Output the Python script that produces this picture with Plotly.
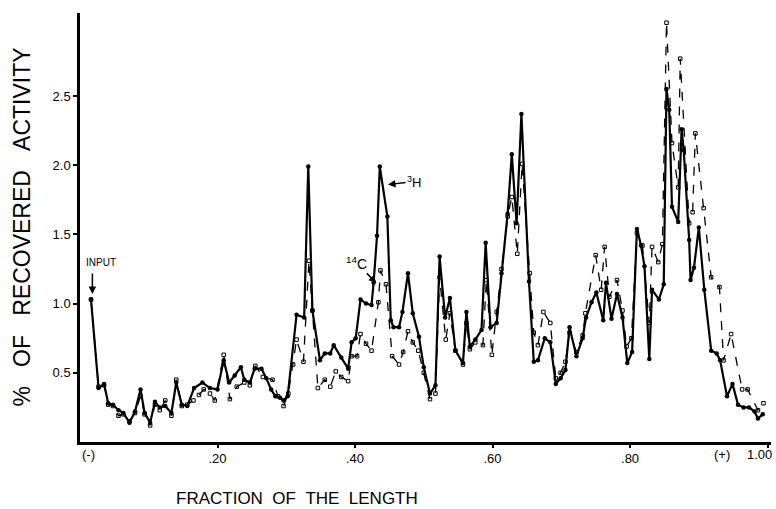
import plotly.graph_objects as go

# 3H series (solid line, filled dots)
h3_x = [0.016, 0.027, 0.035, 0.041, 0.048, 0.056, 0.063, 0.072, 0.080, 0.088,
        0.094, 0.102, 0.109, 0.116, 0.124, 0.133, 0.140, 0.148, 0.156, 0.166,
        0.178, 0.189, 0.200, 0.209, 0.217, 0.225, 0.234, 0.239, 0.247, 0.254,
        0.264, 0.271, 0.278, 0.284, 0.291, 0.296, 0.302, 0.315, 0.326, 0.332,
        0.338, 0.349, 0.356, 0.364, 0.369, 0.380, 0.390, 0.395, 0.401, 0.408,
        0.416, 0.424, 0.427, 0.432, 0.436, 0.447, 0.452, 0.456, 0.464, 0.469,
        0.477, 0.484, 0.493, 0.500, 0.509, 0.517, 0.523, 0.531, 0.538, 0.546,
        0.557, 0.562, 0.567, 0.575, 0.584, 0.590, 0.597, 0.606, 0.613, 0.622,
        0.628, 0.635, 0.642, 0.653, 0.660, 0.666, 0.676, 0.684, 0.692, 0.699,
        0.706, 0.712, 0.722, 0.731, 0.736, 0.744, 0.751, 0.761, 0.765, 0.773,
        0.781, 0.789, 0.796, 0.803, 0.810, 0.816, 0.821, 0.828, 0.832, 0.842,
        0.849, 0.853, 0.857, 0.861, 0.870, 0.875, 0.878, 0.886, 0.888, 0.893,
        0.900, 0.908, 0.918, 0.926, 0.931, 0.941, 0.949, 0.957, 0.965, 0.973,
        0.981, 0.986, 0.993]
h3_y = [1.03, 0.39, 0.42, 0.28, 0.27, 0.23, 0.21, 0.14, 0.22, 0.38,
        0.21, 0.14, 0.29, 0.25, 0.26, 0.21, 0.43, 0.27, 0.26, 0.39,
        0.43, 0.39, 0.38, 0.59, 0.43, 0.48, 0.54, 0.45, 0.43, 0.53,
        0.53, 0.46, 0.38, 0.33, 0.32, 0.30, 0.33, 0.92, 0.90, 1.99,
        0.95, 0.59, 0.64, 0.64, 0.70, 0.61, 0.53, 0.72, 0.75, 1.03,
        1.00, 0.99, 1.15, 1.49, 1.99, 1.63, 0.88, 0.83, 0.83, 0.94,
        1.22, 0.93, 0.76, 0.54, 0.35, 0.41, 1.34, 0.90, 1.04, 0.66,
        0.57, 0.94, 0.69, 0.74, 0.81, 1.44, 0.83, 0.86, 1.22, 1.65,
        2.08, 1.58, 2.37, 1.16, 0.58, 0.59, 0.75, 0.72, 0.42, 0.46,
        0.52, 0.83, 0.62, 0.75, 0.90, 1.01, 1.08, 0.88, 1.15, 0.89,
        1.07, 0.90, 0.57, 0.65, 1.54, 1.42, 1.27, 0.60, 1.10, 1.03,
        1.14, 2.55, 2.40, 1.70, 1.59, 2.26, 2.11, 1.46, 1.17, 1.26,
        1.55, 1.10, 0.66, 0.64, 0.59, 0.33, 0.42, 0.27, 0.25, 0.25,
        0.22, 0.17, 0.20]

# 14C series (dashed line, open squares)
c14_x = [0.016, 0.027, 0.035, 0.041, 0.048, 0.056, 0.063, 0.072, 0.080, 0.088,
         0.094, 0.102, 0.109, 0.116, 0.124, 0.133, 0.140, 0.148, 0.156, 0.165,
         0.173, 0.180, 0.189, 0.196, 0.209, 0.218, 0.228, 0.239, 0.247, 0.255,
         0.266, 0.280, 0.288, 0.296, 0.303, 0.310, 0.315, 0.325, 0.333, 0.338,
         0.346, 0.356, 0.364, 0.372, 0.380, 0.390, 0.395, 0.403, 0.408, 0.416,
         0.424, 0.434, 0.437, 0.445, 0.454, 0.464, 0.470, 0.477, 0.484, 0.492,
         0.500, 0.509, 0.517, 0.523, 0.532, 0.538, 0.546, 0.557, 0.562, 0.567,
         0.575, 0.586, 0.591, 0.599, 0.606, 0.613, 0.622, 0.628, 0.636, 0.643,
         0.654, 0.660, 0.666, 0.674, 0.684, 0.692, 0.699, 0.706, 0.712, 0.722,
         0.731, 0.735, 0.750, 0.758, 0.763, 0.770, 0.781, 0.789, 0.795, 0.802,
         0.810, 0.818, 0.828, 0.832, 0.841, 0.847, 0.853, 0.861, 0.870, 0.873,
         0.886, 0.891, 0.895, 0.907, 0.918, 0.930, 0.936, 0.947, 0.963, 0.971,
         0.986, 0.994]
c14_y = [1.03, 0.40, 0.41, 0.27, 0.26, 0.19, 0.20, 0.15, 0.21, 0.33,
         0.20, 0.12, 0.27, 0.23, 0.30, 0.19, 0.45, 0.26, 0.27, 0.30,
         0.34, 0.38, 0.35, 0.30, 0.63, 0.31, 0.40, 0.43, 0.41, 0.55,
         0.47, 0.45, 0.33, 0.26, 0.35, 0.56, 0.74, 0.58, 1.31, 0.95,
         0.39, 0.45, 0.40, 0.51, 0.47, 0.44, 0.62, 0.62, 0.78, 0.71,
         0.66, 1.01, 1.24, 1.14, 0.62, 0.56, 0.65, 0.80, 0.72, 0.66,
         0.50, 0.31, 0.35, 1.19, 0.74, 0.93, 0.66, 0.56, 0.86, 0.67,
         0.72, 0.70, 1.17, 0.63, 0.94, 1.25, 1.63, 1.77, 1.36, 2.01,
         1.22, 0.79, 0.70, 0.94, 0.86, 0.46, 0.50, 0.58, 0.79, 0.65,
         0.77, 0.93, 1.35, 1.10, 1.41, 1.05, 1.17, 0.95, 0.69, 0.75,
         1.51, 1.42, 0.86, 1.41, 1.30, 1.43, 3.03, 2.16, 1.84, 2.77,
         1.58, 1.66, 2.23, 1.69, 1.19, 1.12, 0.59, 0.78, 0.38, 0.38,
         0.23, 0.28]

x_tickvals = [0.2, 0.4, 0.6, 0.8, 1.0]
x_ticktext = [".20", ".40", ".60", ".80", ""]
y_tickvals = [0.5, 1.0, 1.5, 2.0, 2.5]
y_ticktext = ["0.5", "1.0", "1.5", "2.0", "2.5"]

fig = go.Figure()
fig.add_trace(go.Scatter(
    x=c14_x, y=c14_y, mode="lines+markers", name="14C",
    line=dict(color="black", width=1.3, dash="dash"),
    marker=dict(symbol="square-open", size=3.5, color="black", line=dict(width=1)),
))
fig.add_trace(go.Scatter(
    x=h3_x, y=h3_y, mode="lines+markers", name="3H",
    line=dict(color="black", width=2.2),
    marker=dict(symbol="circle", size=4.5, color="black"),
))

nb = "\u00a0"
tick_font = dict(family="Liberation Sans", size=13, color="black")
fig.update_layout(
    width=776, height=509,
    margin=dict(l=80, r=5, t=13, b=67, autoexpand=False),
    paper_bgcolor="white", plot_bgcolor="white",
    showlegend=False,
    xaxis=dict(range=[0, 1.005], tickvals=x_tickvals, ticktext=x_ticktext,
               automargin=False,
               showline=True, linecolor="black", linewidth=2.5,
               ticks="outside", ticklen=3, tickwidth=2, tickcolor="black",
               ticklabelstandoff=0,
               showgrid=False, zeroline=False, tickfont=tick_font),
    yaxis=dict(range=[0, 3.1], tickvals=y_tickvals, ticktext=y_ticktext,
               automargin=False,
               showline=True, linecolor="black", linewidth=2.5,
               ticks="outside", ticklen=4, tickwidth=2, tickcolor="black",
               ticklabelstandoff=0,
               showgrid=False, zeroline=False, tickfont=tick_font),
    font=dict(family="Liberation Sans", color="black"),
)

ann = []
# axis titles
ann.append(dict(text=("%" + nb*3 + "OF" + nb*3 + "RECOVERED" + nb*3 + "ACTIVITY"),
                xref="paper", yref="paper", x=-59/691, y=0.5, xanchor="center",
                yanchor="middle", textangle=-90, showarrow=False,
                font=dict(family="Liberation Sans", size=23, color="black")))
ann.append(dict(text=("FRACTION" + nb*2 + "OF" + nb*2 + "THE" + nb*2 + "LENGTH"),
                xref="paper", yref="paper", x=217/691, y=-56/429, xanchor="center",
                yanchor="middle", showarrow=False,
                font=dict(family="Liberation Sans", size=17, color="black")))
# end labels (-), (+), 1.00
ann.append(dict(text="(-)", xref="x", yref="paper", x=0.012, y=0, yshift=-12,
                xanchor="center", yanchor="middle", showarrow=False, font=tick_font))
ann.append(dict(text="(+)", xref="x", yref="paper", x=0.933, y=0, yshift=-12,
                xanchor="center", yanchor="middle", showarrow=False, font=tick_font))
ann.append(dict(text="1.00", xref="paper", yref="paper", x=1.0, y=0, yshift=-12,
                xshift=3, xanchor="right", yanchor="middle", showarrow=False,
                font=tick_font))
# INPUT text and arrow
ann.append(dict(text="INPUT", xref="x", yref="y", x=0.030, y=1.30,
                xanchor="center", yanchor="middle", showarrow=False,
                font=dict(family="Liberation Sans", size=10, color="black")))
ann.append(dict(text="", xref="x", yref="y", x=0.018, y=1.07, ax=0, ay=-22,
                showarrow=True, arrowhead=2, arrowsize=1, arrowwidth=1.5,
                arrowcolor="black"))
# 3H label with arrow
ann.append(dict(text="<sup>3</sup>H", xref="x", yref="y", x=0.448, y=1.86, ax=26, ay=-3,
                showarrow=True, arrowhead=2, arrowsize=1, arrowwidth=1.5,
                arrowcolor="black",
                font=dict(family="Liberation Sans", size=13, color="black")))
# 14C label with arrow
ann.append(dict(text="<sup>14</sup>C", xref="x", yref="y", x=0.431, y=1.15, ax=-20, ay=-20,
                showarrow=True, arrowhead=2, arrowsize=1, arrowwidth=1.5,
                arrowcolor="black",
                font=dict(family="Liberation Sans", size=14, color="black")))
fig.update_layout(annotations=ann)

fig.write_html("out.html")
